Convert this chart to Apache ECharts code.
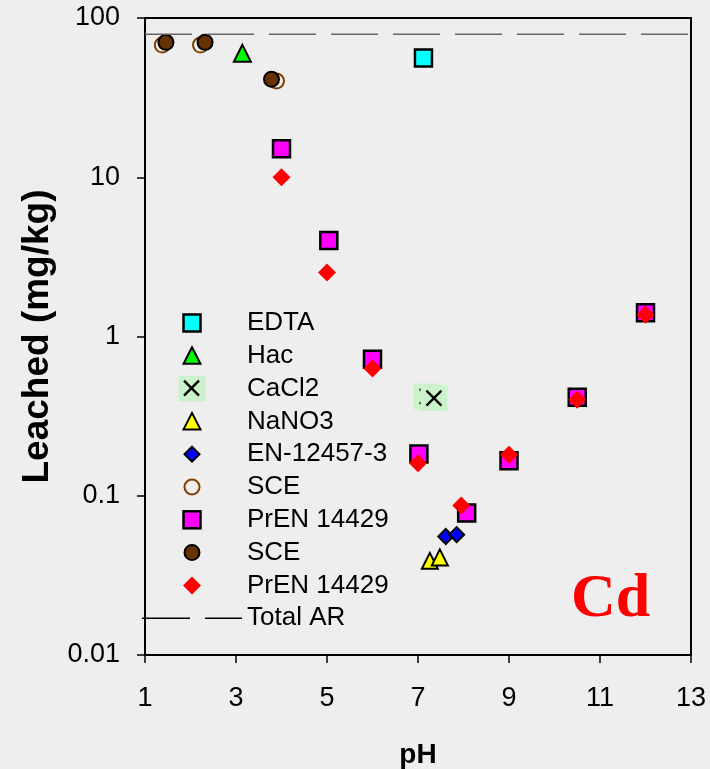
<!DOCTYPE html>
<html>
<head>
<meta charset="utf-8">
<script src="https://cdn.jsdelivr.net/npm/echarts@6/dist/echarts.min.js"></script>
<style>
  html, body { margin: 0; padding: 0; background: #eeeeee; }
  #chart { width: 710px; height: 769px; }
</style>
</head>
<body>
<div id="chart"></div>
<script>
// Cadmium leached (mg/kg) against pH for the different leaching tests
const edtaPH = [7.12];
const edtaVal = [56];
const hacPH = [3.14];
const hacVal = [60];
const cacl2PH = [7.2, 7.35];
const cacl2Val = [0.42, 0.41];
const nano3PH = [7.26, 7.48];
const nano3Val = [0.039, 0.041];
const enPH = [7.61, 7.85];
const enVal = [0.0555, 0.057];
const sceOpenPH = [1.38, 2.22, 3.89];
const sceOpenVal = [67.6, 67.6, 40.2];
const prenSquarePH = [4.0, 5.04, 6.0, 7.02, 8.07, 9.0, 10.5, 12.0];
const prenSquareVal = [15.1, 4.0, 0.72, 0.183, 0.078, 0.166, 0.415, 1.41];
const sceFilledPH = [1.46, 2.32, 3.78];
const sceFilledVal = [70.3, 70.3, 41.2];
const prenDiamondPH = [4.0, 5.0, 6.0, 7.0, 7.95, 9.0, 10.5, 12.0];
const prenDiamondVal = [10, 2.52, 0.63, 0.16, 0.087, 0.181, 0.40, 1.37];
const totalAR = 79;
const phRange = [1, 13];

const legendNames = ['EDTA', 'Hac', 'CaCl2', 'NaNO3', 'EN-12457-3', 'SCE', 'PrEN 14429', 'SCE\u200B', 'PrEN 14429\u200B', 'Total AR'];
const xTickLabels = ['1', '3', '5', '7', '9', '11', '13'];

const pairs = (xs, ys) => xs.map((x, i) => [x, ys[i]]);

// small SVG pictures used as legend keys
function svgIcon(inner, w, h) {
  w = w || 30; h = h || 30;
  const svg = '<svg xmlns="http://www.w3.org/2000/svg" width="' + w + '" height="' + h +
    '" viewBox="0 0 ' + w + ' ' + h + '">' + inner + '</svg>';
  return 'image://data:image/svg+xml;charset=utf-8,' + encodeURIComponent(svg);
}
const icons = {
  square: fill => svgIcon('<rect x="6.5" y="6.5" width="17" height="17" fill="' + fill + '" stroke="#000" stroke-width="2.5"/>'),
  triangle: fill => svgIcon('<polygon points="15,6.5 23.5,23 6.5,23" fill="' + fill + '" stroke="#000" stroke-width="2" stroke-linejoin="miter"/>'),
  diamond: (fill, stroke, r) => svgIcon('<polygon points="15,' + (15 - r) + ' ' + (15 + r) + ',15 15,' + (15 + r) + ' ' + (15 - r) + ',15" fill="' + fill + '"' +
    (stroke ? ' stroke="' + stroke + '" stroke-width="2"' : '') + '/>'),
  circle: (fill, stroke) => svgIcon('<circle cx="15" cy="15" r="7.5" fill="' + fill + '" stroke="' + stroke + '" stroke-width="2"/>'),
  cross: () => svgIcon('<rect x="1.5" y="2" width="27" height="26" fill="#ccf2cc"/>' +
    '<path d="M7,7 L22,22 M22,7 L7,22" stroke="#000" stroke-width="2.3"/>'),
  dash: () => svgIcon('<path d="M0,15 H48 M63,15 H100" stroke="#000" stroke-width="1.5"/>', 100, 30)
};
const legendIcons = [
  icons.square('#00ffff'),
  icons.triangle('#00ff00'),
  icons.cross(),
  icons.triangle('#ffff00'),
  icons.diamond('#0000ff', '#000', 7.5),
  icons.circle('none', '#7f3f00'),
  icons.square('#ff00ff'),
  icons.circle('#663300', '#000'),
  icons.diamond('#ff0000', null, 9),
  icons.dash()
];

const chart = echarts.init(document.getElementById('chart'), null, { renderer: 'canvas' });

const option = {
  backgroundColor: '#eeeeee',
  animation: false,
  textStyle: { fontFamily: 'Liberation Sans, Arial, sans-serif', color: '#000' },
  title: {
    text: 'Cd',
    left: 571,
    top: 569,
    padding: 0,
    textStyle: { fontFamily: 'Liberation Serif, Times New Roman, serif', fontWeight: 'bold', fontSize: 62, color: '#ff0000' }
  },
  grid: {
    left: 145, right: 19, top: 18, bottom: 114,
    outerBoundsMode: 'none',
    containLabel: false,
    show: true, borderColor: '#000', borderWidth: 2, backgroundColor: 'transparent'
  },
  legend: {
    orient: 'vertical',
    left: 142,
    top: 308,
    padding: 0,
    itemWidth: 100,
    itemHeight: 30,
    itemGap: 2.8,
    selectedMode: false,
    symbolKeepAspect: true,
    textStyle: { fontSize: 26, color: '#000', fontFamily: 'Liberation Sans, Arial, sans-serif' },
    data: legendNames.map((n, i) => ({ name: n, icon: legendIcons[i] }))
  },
  xAxis: {
    type: 'value',
    min: phRange[0],
    max: phRange[1],
    interval: 2,
    name: 'pH',
    nameLocation: 'middle',
    nameGap: 86,
    nameTextStyle: { fontSize: 28, fontWeight: 'bold', color: '#000' },
    axisLine: { lineStyle: { color: '#000', width: 2 } },
    axisTick: { length: 8, lineStyle: { color: '#000', width: 1.5 } },
    axisLabel: { fontSize: 27, margin: 30, color: '#000', formatter: v => xTickLabels[Math.round((v - phRange[0]) / 2)] },
    splitLine: { show: false }
  },
  yAxis: {
    type: 'log',
    logBase: 10,
    min: 0.01,
    max: 100,
    name: 'Leached (mg/kg)',
    nameLocation: 'middle',
    nameGap: 87,
    nameTextStyle: { fontSize: 37, fontWeight: 'bold', color: '#000' },
    axisLine: { lineStyle: { color: '#000', width: 2 } },
    axisTick: { length: 8, lineStyle: { color: '#000', width: 1.5 } },
    axisLabel: { fontSize: 27, margin: 25, color: '#000' },
    splitLine: { show: false },
    minorTick: { show: false }
  },
  series: [
    {
      name: 'EDTA', type: 'scatter', data: pairs(edtaPH, edtaVal),
      symbol: 'rect', symbolSize: 17,
      itemStyle: { color: '#00ffff', borderColor: '#000', borderWidth: 2.5, opacity: 1 }
    },
    {
      name: 'Hac', type: 'scatter', data: pairs(hacPH, hacVal),
      symbol: 'triangle', symbolSize: 17,
      itemStyle: { color: '#00ff00', borderColor: '#000', borderWidth: 2, opacity: 1 }
    },
    {
      name: 'CaCl2', type: 'custom', data: pairs(cacl2PH, cacl2Val),
      renderItem: (params, api) => {
        const p = api.coord([api.value(0), api.value(1)]);
        const r = 7.5;
        return {
          type: 'group',
          children: [
            { type: 'rect', shape: { x: p[0] - 13.5, y: p[1] - 13, width: 27, height: 26 }, style: { fill: '#ccf2cc' } },
            { type: 'line', shape: { x1: p[0] - r, y1: p[1] - r, x2: p[0] + r, y2: p[1] + r }, style: { stroke: '#000', lineWidth: 2.3 } },
            { type: 'line', shape: { x1: p[0] + r, y1: p[1] - r, x2: p[0] - r, y2: p[1] + r }, style: { stroke: '#000', lineWidth: 2.3 } }
          ]
        };
      }
    },
    {
      name: 'NaNO3', type: 'scatter', data: pairs(nano3PH, nano3Val),
      symbol: 'triangle', symbolSize: 16,
      itemStyle: { color: '#ffff00', borderColor: '#000', borderWidth: 2, opacity: 1 }
    },
    {
      name: 'EN-12457-3', type: 'scatter', data: pairs(enPH, enVal),
      symbol: 'diamond', symbolSize: 15,
      itemStyle: { color: '#0000ff', borderColor: '#000', borderWidth: 2, opacity: 1 }
    },
    {
      name: 'SCE', type: 'scatter', data: pairs(sceOpenPH, sceOpenVal),
      symbol: 'circle', symbolSize: 15,
      itemStyle: { color: 'rgba(0,0,0,0)', borderColor: '#7f3f00', borderWidth: 2, opacity: 1 }
    },
    {
      name: 'PrEN 14429', type: 'scatter', data: pairs(prenSquarePH, prenSquareVal),
      symbol: 'rect', symbolSize: 17,
      itemStyle: { color: '#ff00ff', borderColor: '#000', borderWidth: 2.5, opacity: 1 }
    },
    {
      name: 'SCE\u200B', type: 'scatter', data: pairs(sceFilledPH, sceFilledVal),
      symbol: 'circle', symbolSize: 15,
      itemStyle: { color: '#663300', borderColor: '#000', borderWidth: 2, opacity: 1 }
    },
    {
      name: 'PrEN 14429\u200B', type: 'scatter', data: pairs(prenDiamondPH, prenDiamondVal),
      symbol: 'diamond', symbolSize: 18,
      itemStyle: { color: '#ff0000', opacity: 1 }
    },
    {
      name: 'Total AR', type: 'line', data: [[phRange[0], totalAR], [phRange[1], totalAR]],
      symbol: 'none', silent: true,
      lineStyle: { color: '#666666', width: 1.5, type: [47, 15] }
    }
  ]
};

chart.setOption(option);
</script>
</body>
</html>
